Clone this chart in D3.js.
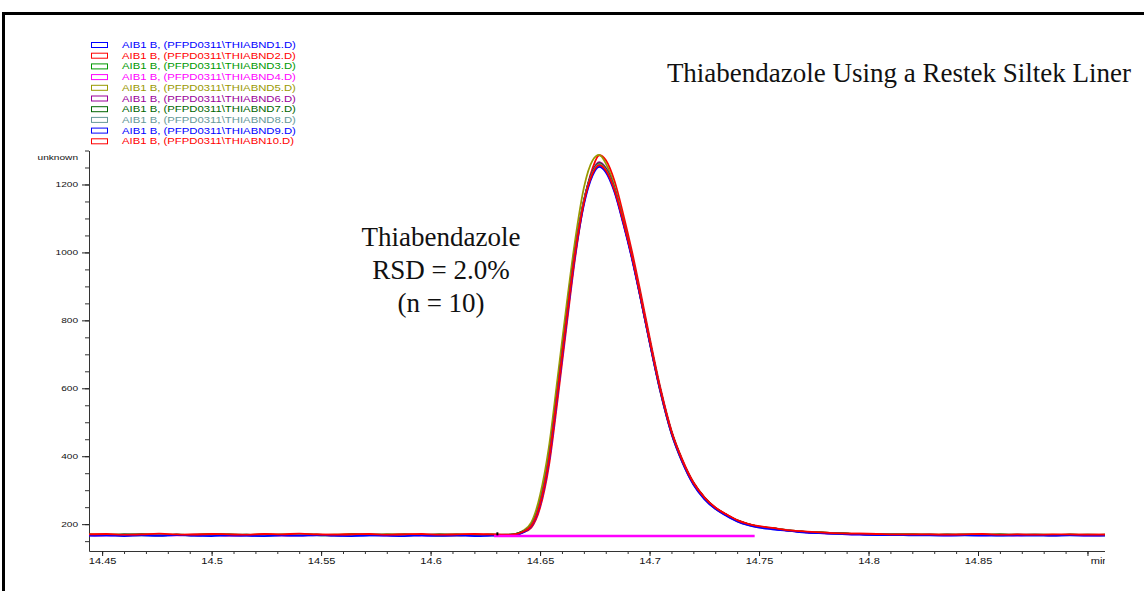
<!DOCTYPE html>
<html>
<head>
<meta charset="utf-8">
<script src="https://cdn.jsdelivr.net/npm/d3@7"></script>
<style>
  body { margin: 0; background: #fff; }
  svg { display: block; }
</style>
</head>
<body>
<svg id="chart" width="1144" height="591"></svg>
<script>
// Retention times (min) shared by all ten runs
const times = [
  14.444, 14.452, 14.460, 14.468, 14.476, 14.484, 14.492, 14.500, 14.508, 14.516,
  14.524, 14.532, 14.540, 14.548, 14.556, 14.564, 14.572, 14.580, 14.588, 14.596,
  14.604, 14.612, 14.620, 14.628, 14.634,
  14.638, 14.642, 14.646, 14.650, 14.654, 14.658, 14.662, 14.666, 14.670, 14.674,
  14.677, 14.680, 14.684, 14.688, 14.692, 14.696, 14.700, 14.705, 14.710, 14.715,
  14.720, 14.725, 14.730, 14.735, 14.740, 14.745, 14.750, 14.756,
  14.764, 14.772, 14.780, 14.788, 14.796, 14.804, 14.812, 14.820, 14.828, 14.836,
  14.844, 14.852, 14.860, 14.868, 14.876, 14.884, 14.892, 14.900, 14.908
];

// Detector response for each injection
const run1 = [
  168,167,169,168,166,168,167,169,168,167,166,168,169,167,168,166,167,168,169,167,166,168,167,168,168,
  169,177,196,262,390,590,800,1000,1150,1236,1262,1245,1185,1090,985,865,740,592,470,385,320,277,247,227,210,199,192,187,
  181,176,174,172,171,170,169,169,168,169,168,168,167,168,168,167,168,168,168
];
const run2 = [
  170,169,168,170,169,168,170,171,169,168,170,169,168,170,169,171,168,169,170,168,169,168,170,169,168,
  169,175,190,248,370,566,778,983,1145,1248,1286,1272,1210,1112,1002,879,751,600,476,390,324,280,249,229,211,200,193,188,
  182,177,175,173,172,171,170,170,169,170,169,169,168,169,169,168,169,169,169
];
const run3 = [
  169,168,170,169,167,169,168,170,168,169,167,169,170,168,167,169,168,170,168,169,167,169,168,169,168,
  170,178,198,265,394,594,803,1001,1148,1233,1258,1241,1182,1088,984,864,740,593,471,386,321,278,248,228,211,200,192,188,
  181,177,174,172,171,170,170,169,168,169,168,168,169,168,168,167,169,168,167
];
const run4 = [
  168,167,168,169,168,167,169,168,167,168,169,167,168,168,167,169,168,167,168,167,168,169,167,168,167,
  168,176,194,258,385,584,794,995,1145,1230,1255,1239,1181,1087,983,863,738,591,469,384,319,276,246,226,209,198,191,186,
  180,176,173,171,170,169,169,168,168,167,168,167,168,167,168,167,168,167,168
];
const run5 = [
  169,170,168,169,170,168,169,170,169,168,170,169,170,168,169,170,168,169,170,168,169,170,168,169,169,
  170,180,205,285,425,630,840,1035,1190,1271,1287,1262,1195,1095,986,863,737,588,467,382,318,275,246,226,209,198,191,187,
  182,177,175,173,171,171,170,170,169,169,170,169,169,168,169,169,168,169,168
];
const run6 = [
  167,168,166,168,167,169,167,168,166,167,168,167,166,168,167,168,169,167,166,168,167,166,168,167,168,
  168,176,195,261,390,591,802,1003,1153,1240,1266,1249,1188,1093,988,867,742,594,472,386,321,278,248,228,210,199,192,187,
  181,176,174,172,171,170,169,168,169,168,168,169,168,167,168,168,168,167,168
];
const run7 = [
  169,168,169,170,168,169,168,169,170,168,169,168,170,169,168,169,170,168,169,168,170,169,168,169,168,
  170,178,197,264,393,593,803,1002,1151,1237,1262,1246,1186,1091,986,866,741,593,471,386,321,278,248,228,211,200,193,188,
  181,177,175,173,171,170,170,169,169,168,169,169,170,169,168,168,169,168,169
];
const run8 = [
  168,169,168,167,169,168,167,169,168,169,167,168,169,168,167,168,169,168,167,169,168,167,169,168,169,
  169,177,196,262,391,591,801,1000,1149,1235,1260,1244,1184,1090,985,865,740,592,470,385,320,277,247,227,210,199,192,187,
  182,177,174,172,171,170,170,169,168,169,170,169,168,169,170,168,168,169,168
];
const run9 = [
  166,167,165,167,166,168,166,165,167,166,165,167,166,168,166,165,167,166,165,167,166,167,165,166,167,
  167,175,193,257,383,582,791,991,1140,1227,1252,1236,1177,1084,980,861,736,589,467,382,317,274,245,225,208,197,190,185,
  180,175,173,171,169,168,168,167,167,166,167,166,166,167,166,166,167,166,166
];
const run10 = [
  170,171,169,170,172,170,169,171,170,169,171,170,172,170,169,170,171,169,170,171,169,170,171,170,169,
  170,177,195,260,388,588,799,998,1147,1233,1257,1242,1183,1091,987,867,742,594,472,387,322,279,249,229,212,201,194,189,
  182,178,175,173,172,171,170,170,170,169,170,171,169,170,169,170,170,169,169
];

const runs = [run1, run2, run3, run4, run5, run6, run7, run8, run9, run10];
const runNames = [
  "AIB1 B, (PFPD0311\\THIABND1.D)",
  "AIB1 B, (PFPD0311\\THIABND2.D)",
  "AIB1 B, (PFPD0311\\THIABND3.D)",
  "AIB1 B, (PFPD0311\\THIABND4.D)",
  "AIB1 B, (PFPD0311\\THIABND5.D)",
  "AIB1 B, (PFPD0311\\THIABND6.D)",
  "AIB1 B, (PFPD0311\\THIABND7.D)",
  "AIB1 B, (PFPD0311\\THIABND8.D)",
  "AIB1 B, (PFPD0311\\THIABND9.D)",
  "AIB1 B, (PFPD0311\\THIABN10.D)"
];
const runColors = [
  "#0000ff", "#ff0000", "#009900", "#ff00ff", "#999900",
  "#990099", "#006600", "#669999", "#0000ff", "#ff0000"
];

// Integrated baseline of the peak (start, end, level) and its start event
const baselineTimes = [14.629, 14.748];
const baselineLevels = [165, 165];
const eventTimes = [14.6305];
const eventLevels = [[167, 176]];

// Axis ticks
const xMajorTicks = [14.45, 14.5, 14.55, 14.6, 14.65, 14.7, 14.75, 14.8, 14.85, 14.9];
const xTickLabels = ["14.45", "14.5", "14.55", "14.6", "14.65", "14.7", "14.75", "14.8", "14.85", "min"];
const xMinorTicks = d3.range(14.45, 14.905, 0.01).map(v => +v.toFixed(2));
const yMajorTicks = [200, 400, 600, 800, 1000, 1200];
const yMinorTicks = d3.range(150, 1301, 50);

const titleText = "Thiabendazole Using a Restek Siltek Liner";
const noteLines = ["Thiabendazole", "RSD = 2.0%", "(n = 10)"];

const svg = d3.select("#chart");
const sansFont = "'Liberation Sans', Arial, sans-serif";
const serifFont = "'Liberation Serif', 'Times New Roman', serif";
const stretch = 1.35;

// Outer frame
svg.append("rect")
  .attr("x", 3.5).attr("y", 13.5)
  .attr("width", 1300).attr("height", 800)
  .attr("fill", "none").attr("stroke", "#000").attr("stroke-width", 3);

const x = d3.scaleLinear().domain([14.444, 14.908]).range([89, 1105]);
const y = d3.scaleLinear().domain([121, 1300]).range([551, 150.5]);

svg.append("defs").append("clipPath").attr("id", "plotClip")
  .append("rect").attr("x", 0).attr("y", 0).attr("width", 1105).attr("height", 591);

// Minor ticks
svg.append("g")
  .attr("transform", `translate(0,${y.range()[0]})`)
  .call(d3.axisBottom(x).tickValues(xMinorTicks).tickSize(3).tickSizeOuter(0).tickFormat(""))
  .call(g => g.select(".domain").remove())
  .call(g => g.selectAll("line").attr("stroke", "#333"));

svg.append("g")
  .attr("transform", `translate(${x.range()[0]},0)`)
  .call(d3.axisLeft(y).tickValues(yMinorTicks).tickSize(4).tickSizeOuter(0).tickFormat(""))
  .call(g => g.select(".domain").remove())
  .call(g => g.selectAll("line").attr("stroke", "#333"));

// Major x axis
const xAxis = svg.append("g")
  .attr("clip-path", "url(#plotClip)")
  .attr("transform", `translate(0,${y.range()[0]})`)
  .call(d3.axisBottom(x).tickValues(xMajorTicks).tickSize(5).tickSizeOuter(0)
    .tickFormat((d, i) => xTickLabels[i]));
xAxis.select(".domain").attr("stroke", "#333");
xAxis.selectAll("line").attr("stroke", "#222");
xAxis.selectAll("text")
  .attr("font-family", sansFont).attr("font-size", 8.2).attr("fill", "#111")
  .attr("y", 7)
  .attr("transform", `scale(${stretch},1)`);
xAxis.selectAll(".tick").filter((d, i) => i === xMajorTicks.length - 1)
  .select("text").attr("text-anchor", "start").attr("x", 2);

// Major y axis
const yAxis = svg.append("g")
  .attr("transform", `translate(${x.range()[0]},0)`)
  .call(d3.axisLeft(y).tickValues(yMajorTicks).tickSize(7).tickSizeOuter(0)
    .tickFormat(d3.format("d")));
yAxis.select(".domain").attr("stroke", "#333");
yAxis.selectAll("line").attr("stroke", "#222");
yAxis.selectAll("text")
  .attr("font-family", sansFont).attr("font-size", 7.5).attr("fill", "#111")
  .attr("x", -11 / stretch)
  .attr("transform", `scale(${stretch},1)`);

svg.append("text")
  .attr("transform", `translate(78,160) scale(${stretch},1)`)
  .attr("text-anchor", "end")
  .attr("font-family", sansFont).attr("font-size", 7.5).attr("fill", "#111")
  .text("unknown");

// Traces
const line = d3.line()
  .x((d, i) => x(times[i]))
  .y(d => y(d))
  .curve(d3.curveMonotoneX);

const traces = svg.append("g").attr("clip-path", "url(#plotClip)");
runs.forEach((r, k) => {
  traces.append("path")
    .datum(r)
    .attr("d", line)
    .attr("fill", "none")
    .attr("stroke", runColors[k])
    .attr("stroke-width", 1.8)
    .attr("stroke-linejoin", "round");
});

// Integration baseline and start event
traces.append("line")
  .attr("x1", x(baselineTimes[0])).attr("x2", x(baselineTimes[1]))
  .attr("y1", y(baselineLevels[0])).attr("y2", y(baselineLevels[1]))
  .attr("stroke", "#ff00ff").attr("stroke-width", 2.5);
eventTimes.forEach((t, i) => {
  traces.append("line")
    .attr("x1", x(t)).attr("x2", x(t))
    .attr("y1", y(eventLevels[i][0])).attr("y2", y(eventLevels[i][1]))
    .attr("stroke", "#000").attr("stroke-width", 2);
});

// Legend
const legend = svg.append("g");
runNames.forEach((name, k) => {
  const cy = 45 + k * 10.7;
  legend.append("rect")
    .attr("x", 91.5).attr("y", cy - 2.5)
    .attr("width", 16).attr("height", 5)
    .attr("fill", "#fff").attr("stroke", runColors[k]).attr("stroke-width", 1);
  legend.append("text")
    .attr("transform", `translate(122,${cy + 3}) scale(1.38,1)`)
    .attr("font-family", sansFont).attr("font-size", 8.2)
    .attr("fill", runColors[k])
    .text(name);
});

// Title
svg.append("text")
  .attr("x", 1131).attr("y", 82)
  .attr("text-anchor", "end")
  .attr("font-family", serifFont).attr("font-size", 27).attr("fill", "#111")
  .text(titleText);

// Peak annotation
noteLines.forEach((t, i) => {
  svg.append("text")
    .attr("x", 441).attr("y", 246 + i * 33)
    .attr("text-anchor", "middle")
    .attr("font-family", serifFont).attr("font-size", 27).attr("fill", "#111")
    .text(t);
});
</script>
</body>
</html>
